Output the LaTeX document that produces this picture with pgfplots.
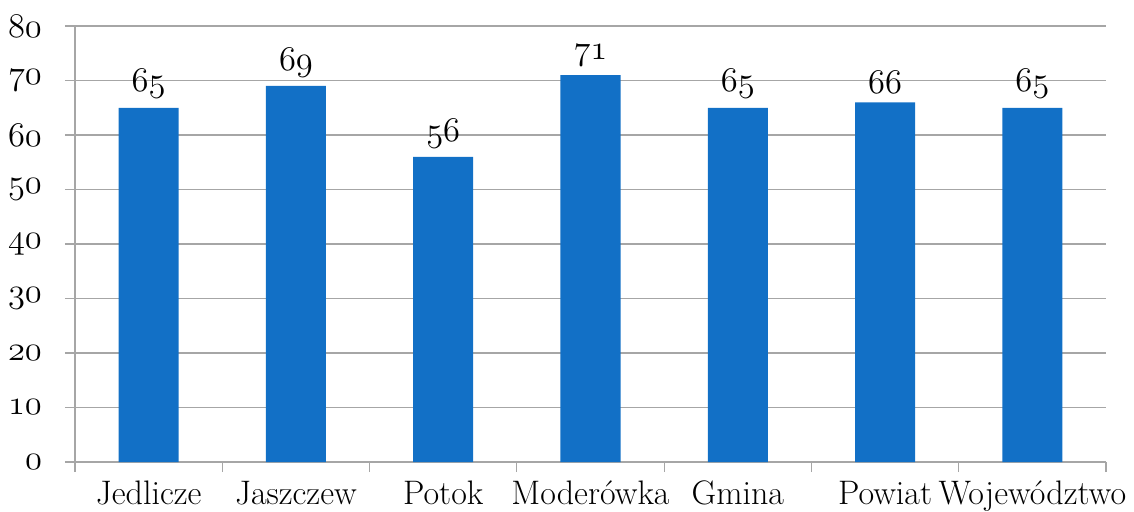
\documentclass[border=0pt]{standalone}
\usepackage{pgfplots}
\pgfplotsset{compat=1.18}
\definecolor{barblue}{HTML}{1270C6}
\definecolor{gridgray}{HTML}{A6A6A6}
% old-style figures from Latin Modern math italic
\newcommand{\osf}[1]{{\fontencoding{OML}\fontfamily{cmm}\fontseries{m}\fontshape{it}\selectfont #1}}
\begin{document}
\begin{tikzpicture}
\useasboundingbox (-37.5pt,-24.5pt) rectangle (529.5pt,231pt);
\begin{axis}[
    scale only axis,
    width=515.5pt, height=218pt,
    at={(0,0)}, anchor=south west,
    xmin=-0.5, xmax=6.5,
    ymin=0, ymax=80,
    ytick={0,10,...,80},
    xtick={0,...,6},
    xticklabels={Jedlicze,Jaszczew,Potok,Moderówka,Gmina,Powiat,Województwo},
    yticklabel={\osf{\pgfmathprintnumber[assume math mode=true]{\tick}}},
    ticklabel style={font=\fontsize{17}{20}\selectfont},
    xtick style={draw=none},
    extra x ticks={-0.5,0.5,...,6.5},
    extra x tick labels={},
    extra x tick style={xtick style={draw=gridgray, line width=0.6pt}, major tick length=5pt},
    tick align=outside,
    ytick style={draw=gridgray, line width=0.6pt},
    major tick length=5pt,
    ymajorgrids,
    grid style={gridgray, line width=0.6pt},
    axis x line*=bottom,
    axis y line*=left,
    axis line style={gridgray, line width=0.6pt, -},
    xticklabel style={yshift=-1pt},
    yticklabel style={xshift=-8pt},
    ybar,
    bar width=30pt,
    nodes near coords={\osf{\pgfmathprintnumber[assume math mode=true]{\pgfplotspointmeta}}},
    nodes near coords style={font=\fontsize{17}{20}\selectfont, text=black, yshift=1pt},
]
\addplot[fill=barblue, draw=none] coordinates {
    (0,65) (1,69) (2,56) (3,71) (4,65) (5,66) (6,65)
};
\end{axis}
\end{tikzpicture}
\end{document}
